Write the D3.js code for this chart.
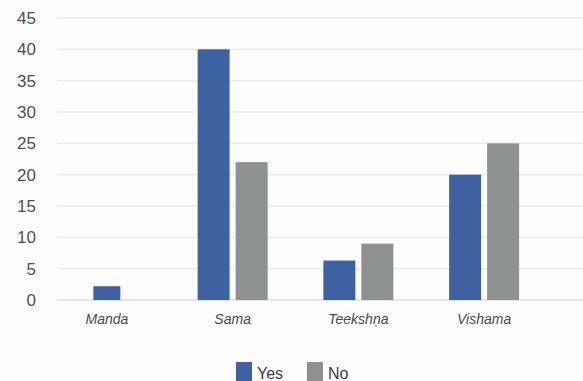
<!DOCTYPE html>
<html lang="en">
<head>
    <meta charset="UTF-8">
    <script src="https://cdn.jsdelivr.net/npm/d3@7"></script>
    <title>Chart</title>
    <style>
        body { margin: 0; background: #fdfdfd; }
        svg { display: block; font-family: 'Liberation Sans', Arial, sans-serif; }
    </style>
</head>
<body>
    <svg id="mainsvg" width="583" height="381"></svg>
    <script>
        const categories = ['Manda', 'Sama', 'Teekshṇa', 'Vishama']
        const yesValues = [2.2, 40, 6.3, 20]
        const noValues = [null, 22, 9, 25]
        const seriesNames = ['Yes', 'No']
        const yTicks = [0, 5, 10, 15, 20, 25, 30, 35, 40, 45]

        const colors = { Yes: '#3e62a1', No: '#8f9190' }

        const svg = d3.select('#mainsvg')

        const plotLeft = 57, plotRight = 583
        const xScale = d3.scaleBand()
            .domain(categories)
            .range([44, 547])
        const yScale = d3.scaleLinear()
            .domain([0, 45])
            .range([300, 18])

        // gridlines
        const grid = svg.append('g')
        grid.selectAll('line').data(yTicks).join('line')
            .attr('x1', plotLeft).attr('x2', plotRight)
            .attr('y1', d => yScale(d)).attr('y2', d => yScale(d))
            .attr('stroke', d => d === 0 ? '#dedede' : '#ebebeb')
            .attr('stroke-width', 1.5)

        // y axis labels
        const yAxis = d3.axisLeft(yScale).tickValues(yTicks).tickSize(0).tickPadding(0)
        const yg = svg.append('g').attr('transform', 'translate(36,0)').call(yAxis)
        yg.select('.domain').remove()
        yg.selectAll('.tick text')
            .attr('font-size', 17)
            .attr('font-family', "'Liberation Sans', Arial, sans-serif")
            .attr('fill', '#505050')

        // bars
        const barW = 32, gap = 6
        categories.forEach((cat, i) => {
            const vals = { Yes: yesValues[i], No: noValues[i] }
            const keys = seriesNames.filter(k => vals[k] != null)
            const groupW = keys.length * (barW + gap) - gap
            const cx = xScale(cat) + xScale.bandwidth() / 2
            const x1 = d3.scaleBand()
                .domain(keys)
                .range([cx - groupW / 2, cx + groupW / 2])
                .paddingInner(gap / (barW + gap))
            svg.append('g').selectAll('rect').data(keys).join('rect')
                .attr('x', k => x1(k))
                .attr('width', x1.bandwidth())
                .attr('y', k => yScale(vals[k]))
                .attr('height', k => yScale(0) - yScale(vals[k]))
                .attr('fill', k => colors[k])
        })

        // x axis labels
        const xAxis = d3.axisBottom(xScale).tickSize(0).tickPadding(0)
        const xg = svg.append('g').attr('transform', 'translate(0,314)').call(xAxis)
        xg.select('.domain').remove()
        xg.selectAll('.tick text')
            .attr('font-size', 14)
            .attr('font-style', 'italic')
            .attr('font-family', "'Liberation Sans', Arial, sans-serif")
            .attr('fill', '#4a4a4a')

        // legend
        const legend = svg.append('g').attr('transform', 'translate(236,362)')
        const legendX = d3.scalePoint().domain(seriesNames).range([0, 71])
        const items = legend.selectAll('g').data(seriesNames).join('g')
            .attr('transform', d => `translate(${legendX(d)},0)`)
        items.append('rect')
            .attr('width', 16).attr('height', 19)
            .attr('fill', d => colors[d])
        items.append('text')
            .attr('x', 21).attr('y', 17)
            .attr('font-size', 16)
            .attr('fill', '#3a3a3a')
            .text(d => d)
    </script>
</body>
</html>
